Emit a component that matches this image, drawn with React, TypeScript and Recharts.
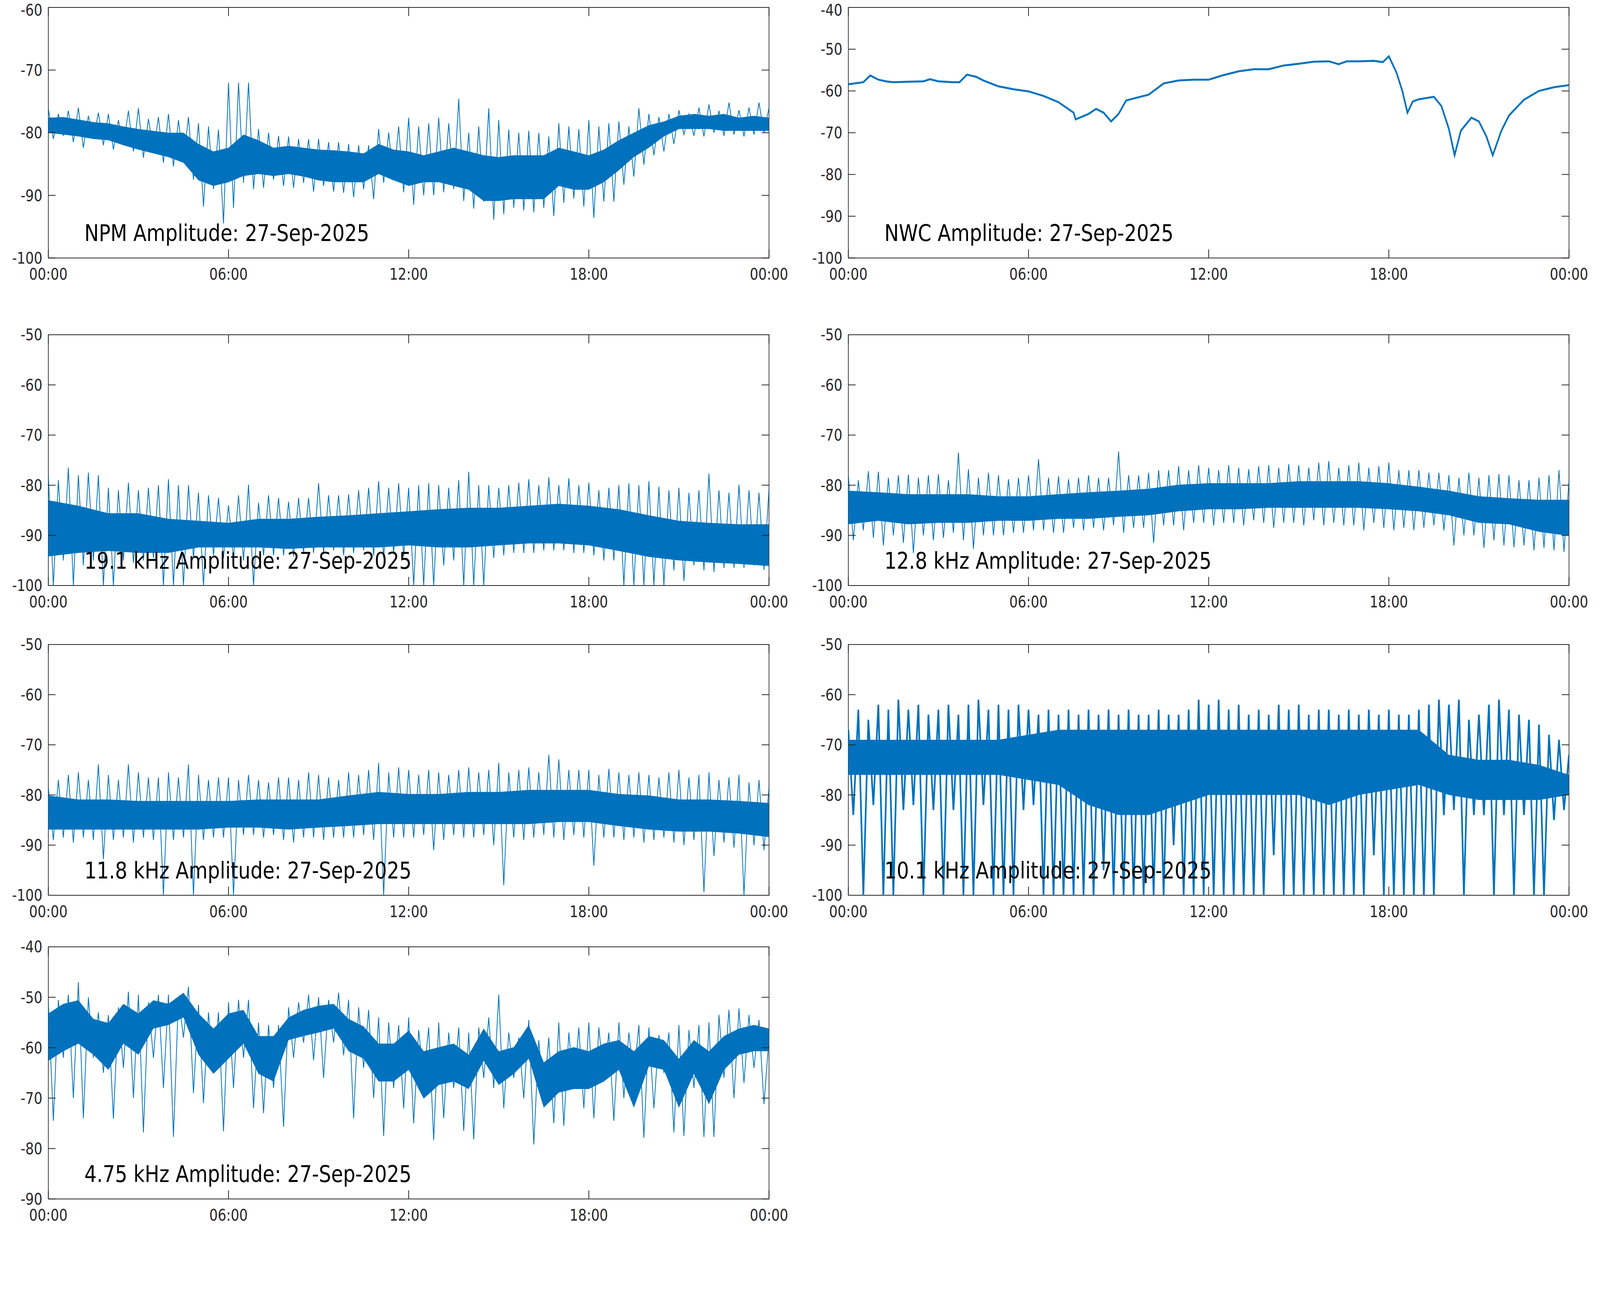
import React from 'react';
import { Area, ComposedChart, Line, ReferenceArea, XAxis, YAxis } from 'recharts';

const BLUE = '#0072BD';
const INK = '#262626';
const FONT = '"DejaVu Sans", Verdana, sans-serif';

// design size of the figure
const FIG_W = 4800;
const FIG_H = 3300;

// x axis: hours of the day
const hourTicks = [0, 6, 12, 18, 24];
const hourLabels = ['00:00', '06:00', '12:00', '18:00', '00:00'];

// ---- NPM (30 min core band, 10 min spikes) ----
const npmHi = [-77.6, -77.5, -77.9, -78.3, -78.5, -79.0, -79.4, -79.7, -80.0, -80.0, -81.8, -83.0, -82.4, -80.3, -81.2, -82.4, -82.1, -82.4, -82.7, -82.8, -83.0, -83.3, -81.8, -82.7, -83.0, -83.6, -83.0, -82.4, -83.0, -83.6, -83.9, -83.6, -83.6, -83.6, -82.4, -83.0, -83.6, -82.7, -81.2, -80.0, -78.8, -78.2, -77.3, -77.0, -77.3, -77.0, -77.6, -77.3, -77.6];
const npmLo = [-80.0, -80.3, -80.6, -81.0, -81.2, -82.0, -82.7, -83.3, -83.9, -84.8, -87.6, -88.5, -87.9, -86.9, -86.6, -86.9, -86.6, -87.0, -87.6, -87.9, -87.9, -87.9, -86.6, -87.6, -88.5, -87.9, -87.9, -88.5, -89.1, -90.9, -90.9, -90.6, -90.6, -90.6, -88.5, -89.1, -89.1, -87.9, -86.0, -83.9, -82.4, -80.6, -79.4, -79.4, -79.4, -79.7, -79.7, -79.7, -79.7];
const npmSpikes = [
  -76.2, -81.0, -77.0, -80.5, -76.5, -81.5, -76.0, -82.4, -77.3, -81.0, -76.8, -82.0,
  -77.0, -82.7, -78.0, -82.0, -76.5, -83.0, -76.1, -84.0, -77.8, -83.0, -77.5, -84.8,
  -77.0, -85.4, -78.0, -84.5, -77.5, -87.5, -78.5, -91.8, -79.0, -89.0, -79.5, -94.5,
  -72.0, -92.0, -72.0, -88.0, -72.0, -89.0, -79.4, -88.8, -80.0, -87.5, -80.5, -88.5,
  -80.6, -88.8, -81.0, -88.0, -81.0, -89.4, -81.0, -88.5, -81.5, -89.4, -81.5, -89.6,
  -81.8, -90.3, -82.0, -89.0, -82.0, -90.6, -79.4, -88.0, -80.0, -87.5, -79.0, -89.5,
  -77.6, -91.5, -79.0, -90.0, -78.5, -90.0, -77.6, -89.5, -78.5, -89.0, -74.6, -90.9,
  -80.0, -92.1, -79.0, -91.0, -76.1, -93.9, -78.0, -93.0, -79.5, -92.0, -80.0, -92.4,
  -79.7, -92.7, -80.0, -92.0, -80.6, -93.3, -78.5, -91.2, -79.0, -90.5, -79.4, -91.8,
  -78.0, -93.6, -79.0, -91.0, -78.5, -91.0, -78.2, -88.3, -79.0, -87.0, -76.1, -85.1,
  -77.0, -83.6, -77.5, -83.0, -77.0, -81.8, -76.4, -80.3, -77.0, -80.5, -76.0, -80.6,
  -75.5, -80.0, -76.5, -80.5, -75.2, -80.3, -76.4, -80.6, -76.0, -80.3, -75.2, -80.0,
  -76.0,
];

// ---- NWC (single trace) ----
const nwcHours = [0, 0.5, 0.73, 1, 1.25, 1.5, 2, 2.5, 2.72, 3, 3.5, 3.7, 3.95, 4.25, 4.5, 5, 5.5, 6, 6.5, 7, 7.5, 7.57, 8, 8.25, 8.5, 8.75, 9, 9.25, 9.5, 10, 10.5, 11, 11.5, 12, 12.5, 13, 13.5, 14, 14.5, 15, 15.5, 16, 16.33, 16.6, 17, 17.5, 17.8, 18, 18.25, 18.45, 18.62, 18.8, 19, 19.5, 19.75, 20, 20.19, 20.4, 20.75, 21, 21.25, 21.46, 21.75, 22, 22.5, 23, 23.5, 24];
const nwcValues = [-58.4, -57.9, -56.3, -57.3, -57.7, -57.9, -57.8, -57.7, -57.2, -57.7, -57.9, -57.9, -56.1, -56.6, -57.5, -58.9, -59.6, -60.1, -61.2, -62.7, -65.2, -66.8, -65.5, -64.3, -65.2, -67.3, -65.5, -62.3, -61.8, -60.9, -58.2, -57.5, -57.3, -57.3, -56.2, -55.3, -54.8, -54.8, -53.9, -53.5, -53.0, -52.9, -53.6, -52.9, -52.9, -52.8, -53.1, -51.7, -55.5, -60.0, -65.2, -62.5, -62.0, -61.4, -63.6, -69.1, -75.4, -69.5, -66.4, -67.3, -70.9, -75.4, -69.5, -65.9, -62.1, -60.0, -59.1, -58.6];

// ---- 19.1 kHz (hourly core, 10 min spikes) ----
const k191Hi = [-83.0, -84.1, -85.6, -85.6, -86.7, -87.1, -87.5, -86.7, -86.7, -86.3, -86.0, -85.6, -85.2, -84.8, -84.5, -84.5, -84.1, -83.7, -84.1, -84.8, -86.0, -87.1, -87.5, -87.8, -87.8];
const k191Lo = [-94.2, -93.5, -93.1, -93.5, -93.5, -92.4, -92.4, -92.4, -92.7, -92.4, -92.4, -92.4, -92.0, -92.4, -92.4, -92.0, -91.6, -91.6, -92.0, -93.1, -94.3, -95.0, -95.4, -95.7, -96.1];
const k191Spikes = [
  -78.0, -100, -79.0, -95.0, -76.5, -100, -78.0, -96.0, -77.5, -95.0, -78.0, -100,
  -80.5, -100, -81.0, -95.0, -79.5, -95.5, -81.0, -95.0, -80.5, -94.5, -80.0, -100,
  -78.8, -100, -80.0, -100, -80.0, -94.5, -81.5, -100, -82.0, -94.0, -82.5, -94.5,
  -84.0, -94.6, -82.0, -95.0, -79.9, -100, -83.5, -94.0, -82.0, -94.0, -82.5, -94.0,
  -83.3, -94.2, -82.5, -93.5, -82.5, -93.5, -79.6, -93.5, -82.0, -93.0, -82.0, -94.0,
  -81.8, -93.5, -81.0, -93.0, -80.5, -94.0, -79.2, -94.5, -80.5, -93.5, -79.6, -94.2,
  -80.5, -100, -80.0, -100, -79.6, -100, -80.0, -96.0, -80.5, -95.0, -79.0, -100,
  -77.3, -100, -80.0, -100, -80.0, -94.5, -80.5, -94.0, -80.0, -93.5, -79.5, -93.5,
  -78.8, -93.5, -80.0, -93.0, -78.4, -93.0, -80.0, -93.0, -78.6, -93.5, -80.0, -93.5,
  -79.5, -94.0, -81.0, -95.0, -80.5, -95.0, -80.0, -100, -79.6, -100, -80.0, -100,
  -79.2, -100, -80.3, -100, -81.0, -97.0, -80.5, -99.1, -81.5, -96.0, -81.0, -97.0,
  -77.7, -97.3, -81.0, -96.5, -81.5, -96.5, -79.9, -96.5, -81.0, -96.0, -81.5, -96.9,
  -80.7,
];

// ---- 12.8 kHz ----
const k128Hi = [-81.1, -81.4, -81.8, -81.8, -81.8, -82.2, -82.2, -81.8, -81.4, -81.1, -80.7, -79.9, -79.6, -79.6, -79.6, -79.2, -79.2, -79.2, -79.6, -80.3, -81.1, -82.2, -82.6, -82.9, -82.9];
const k128Lo = [-87.8, -87.1, -87.8, -87.5, -87.5, -87.1, -87.1, -86.7, -86.7, -86.3, -86.0, -85.2, -84.8, -84.8, -84.5, -84.5, -84.5, -84.5, -84.8, -85.2, -86.0, -87.5, -87.8, -89.3, -90.1];
const k128Spikes = [
  -78.0, -91.0, -79.0, -89.0, -77.2, -90.5, -77.3, -92.0, -78.5, -90.0, -78.0, -91.5,
  -77.9, -93.5, -78.5, -90.0, -78.0, -91.0, -77.8, -90.5, -79.0, -89.5, -73.5, -91.0,
  -76.8, -92.7, -78.5, -90.0, -77.5, -90.0, -78.0, -90.0, -78.8, -89.5, -78.5, -89.5,
  -78.0, -89.0, -74.8, -89.0, -78.5, -89.5, -78.2, -89.5, -78.8, -88.5, -78.5, -89.0,
  -78.0, -88.5, -78.5, -89.0, -78.5, -88.0, -73.3, -89.5, -78.0, -88.5, -78.0, -88.5,
  -77.5, -91.5, -77.0, -88.0, -77.0, -88.0, -76.2, -89.0, -77.0, -87.5, -76.0, -87.5,
  -76.5, -88.0, -77.0, -87.5, -76.0, -87.5, -76.5, -88.0, -76.8, -87.0, -76.2, -87.5,
  -76.0, -88.5, -76.5, -87.5, -75.8, -87.5, -76.0, -88.0, -76.5, -87.0, -75.5, -88.0,
  -75.2, -87.5, -76.5, -88.0, -76.0, -88.0, -75.5, -89.0, -76.5, -87.5, -76.2, -88.5,
  -75.5, -89.0, -77.0, -88.5, -77.0, -89.0, -77.0, -88.5, -77.5, -88.0, -77.5, -89.0,
  -78.0, -92.0, -78.5, -90.0, -77.5, -90.0, -78.5, -92.5, -78.0, -91.0, -77.8, -92.0,
  -78.0, -92.4, -79.0, -92.0, -79.0, -93.0, -78.5, -92.5, -78.0, -93.0, -77.0, -93.3,
  -79.0,
];

// ---- 11.8 kHz ----
const k118Hi = [-80.1, -80.9, -80.9, -81.2, -81.2, -81.2, -81.2, -80.9, -80.9, -80.9, -80.1, -79.4, -79.8, -79.8, -79.4, -79.4, -79.0, -79.0, -79.0, -79.8, -80.1, -80.9, -80.9, -81.2, -81.6];
const k118Lo = [-86.9, -86.9, -86.9, -86.9, -86.9, -86.9, -86.5, -86.5, -86.9, -86.5, -86.2, -85.8, -85.8, -85.8, -85.8, -85.8, -85.8, -85.4, -85.4, -86.2, -86.9, -87.3, -87.3, -87.7, -88.4];
const k118Spikes = [
  -78.5, -89.0, -77.0, -88.5, -76.0, -89.5, -75.5, -88.5, -77.0, -89.0, -73.9, -92.8,
  -76.0, -89.0, -77.0, -88.5, -73.9, -89.5, -75.5, -88.5, -76.5, -89.0, -76.5, -100,
  -75.5, -89.0, -76.5, -88.5, -73.9, -100, -76.0, -89.0, -77.0, -88.5, -76.5, -88.5,
  -76.5, -100, -77.0, -88.0, -76.0, -88.0, -77.0, -88.5, -77.5, -88.0, -76.5, -89.0,
  -76.5, -89.5, -77.0, -88.5, -75.5, -88.5, -76.0, -89.0, -76.5, -88.5, -77.0, -88.5,
  -75.5, -88.5, -76.0, -88.0, -75.0, -89.0, -73.6, -100, -75.5, -88.5, -74.5, -88.5,
  -75.0, -88.5, -76.0, -88.0, -75.0, -91.0, -75.5, -89.0, -76.0, -88.0, -75.0, -88.5,
  -74.5, -88.5, -75.5, -88.0, -75.0, -90.0, -73.6, -98.0, -75.5, -88.5, -75.0, -89.0,
  -74.5, -88.5, -75.5, -88.0, -72.0, -88.5, -72.9, -89.0, -75.0, -88.0, -75.0, -88.5,
  -75.0, -94.1, -76.0, -88.5, -74.8, -88.5, -75.5, -89.0, -76.0, -88.5, -75.5, -89.5,
  -76.0, -89.0, -76.5, -88.5, -75.5, -89.5, -75.0, -90.0, -76.5, -89.0, -76.0, -99.4,
  -75.5, -92.2, -77.0, -89.5, -76.5, -90.5, -76.0, -100, -77.5, -90.0, -77.0, -91.0,
  -78.5,
];

// ---- 10.1 kHz (hourly core, 10 min spikes) ----
const k101Hi = [-69, -69, -69, -69, -69, -69, -68, -67, -67, -67, -67, -67, -67, -67, -67, -67, -67, -67, -67, -67, -72, -73, -73, -74, -76];
const k101Lo = [-76, -76, -76, -76, -76, -76, -77, -78, -82, -84, -84, -82, -80, -80, -80, -80, -82, -80, -79, -78, -80, -81, -81, -81, -80];
const k101Spikes = [
  -67, -84, -63, -100, -65, -82, -62, -100, -63, -100, -61, -83,
  -63, -82, -62, -100, -64, -83, -63, -100, -62, -83, -64, -100,
  -62, -100, -61, -82, -63, -100, -62, -100, -63, -100, -62, -83,
  -63, -82, -64, -100, -63, -100, -64, -100, -63, -100, -64, -100,
  -63, -100, -64, -95, -63, -100, -64, -100, -63, -100, -64, -100,
  -64, -100, -63, -100, -64, -90, -64, -100, -63, -100, -61, -100,
  -62, -100, -61, -100, -63, -100, -62, -100, -64, -100, -63, -100,
  -64, -92, -62, -100, -63, -100, -62, -100, -64, -100, -63, -100,
  -63, -100, -64, -100, -63, -100, -64, -100, -63, -92, -64, -100,
  -63, -100, -64, -100, -64, -100, -63, -100, -62, -100, -61, -84,
  -62, -83, -61, -100, -65, -84, -64, -84, -62, -100, -61, -84,
  -63, -100, -64, -84, -65, -100, -66, -100, -68, -85, -69, -83,
  -72,
];

// ---- 4.75 kHz (30 min core, 10 min spikes) ----
const k475Hi = [-53.2, -51.3, -50.6, -54.3, -55.1, -51.3, -53.2, -50.6, -51.3, -49.1, -53.2, -56.2, -53.2, -52.5, -57.7, -57.7, -54.0, -52.5, -51.7, -51.3, -54.3, -55.8, -59.2, -59.2, -56.6, -60.7, -59.9, -59.2, -61.4, -56.2, -60.7, -59.9, -55.5, -62.9, -60.7, -59.9, -60.7, -59.2, -58.5, -60.7, -57.7, -58.5, -62.2, -58.5, -60.7, -57.7, -56.2, -55.5, -56.2];
const k475Lo = [-62.6, -60.7, -59.2, -61.4, -64.4, -59.2, -61.4, -56.2, -55.5, -54.0, -61.4, -65.2, -62.2, -59.2, -65.2, -66.7, -58.5, -57.7, -57.0, -56.2, -60.7, -62.2, -66.7, -66.7, -64.4, -70.1, -67.4, -66.7, -68.2, -62.6, -67.4, -65.2, -62.2, -71.9, -68.9, -68.2, -68.2, -66.7, -64.4, -71.9, -63.7, -64.4, -71.9, -65.2, -71.2, -64.4, -61.4, -60.7, -60.7];
const k475Spikes = [
  -51.0, -74.5, -50.5, -62.0, -49.5, -70.0, -47.0, -74.0, -50.0, -62.0, -53.0, -65.0,
  -53.5, -74.1, -52.0, -64.0, -48.9, -70.0, -49.5, -76.8, -51.0, -62.0, -49.5, -68.0,
  -49.5, -77.7, -50.0, -58.0, -47.9, -69.0, -51.5, -71.0, -53.0, -65.0, -53.0, -76.6,
  -51.0, -68.0, -50.5, -62.0, -50.5, -72.0, -55.0, -73.0, -55.5, -68.0, -55.5, -75.7,
  -52.0, -62.0, -51.0, -59.0, -49.5, -62.5, -50.0, -66.0, -50.5, -59.0, -49.1, -61.5,
  -50.5, -74.0, -52.0, -64.0, -52.5, -70.0, -54.0, -77.5, -55.0, -68.0, -55.5, -72.0,
  -54.0, -75.0, -56.5, -66.0, -56.0, -78.3, -55.0, -74.0, -57.0, -68.0, -56.0, -76.5,
  -57.0, -78.2, -56.0, -66.0, -54.0, -68.0, -49.5, -72.0, -57.0, -66.0, -58.0, -70.0,
  -54.5, -79.2, -58.5, -70.0, -58.0, -75.0, -55.0, -75.5, -57.0, -68.0, -56.0, -72.0,
  -55.0, -74.0, -56.0, -66.0, -57.0, -74.5, -55.0, -70.0, -57.0, -66.0, -55.5, -77.9,
  -56.0, -72.0, -57.5, -65.0, -57.0, -76.8, -55.5, -77.5, -56.5, -68.0, -55.5, -77.7,
  -55.0, -77.7, -53.5, -66.0, -52.5, -70.0, -52.2, -67.0, -53.5, -64.0, -54.5, -71.2,
  -58.0,
];

const PLOT_W = 2162;
const COL_X = [145, 2545];
const ROW_Y = [18.5, 857, 1650, 2423.5];
const ROW_H = [641.5, 642, 642, 645.5];

type Panel = {
  title: string;
  col: number;
  row: number;
  yTicks: number[];
  hi?: number[];
  lo?: number[];
  spikes?: number[];
  spikeWidth?: number;
  hours?: number[];
  trace?: number[];
};

const panels: Panel[] = [
  { title: 'NPM Amplitude: 27-Sep-2025', col: 0, row: 0, yTicks: [-100, -90, -80, -70, -60], hi: npmHi, lo: npmLo, spikes: npmSpikes },
  { title: 'NWC Amplitude: 27-Sep-2025', col: 1, row: 0, yTicks: [-100, -90, -80, -70, -60, -50, -40], hours: nwcHours, trace: nwcValues },
  { title: '19.1 kHz Amplitude: 27-Sep-2025', col: 0, row: 1, yTicks: [-100, -90, -80, -70, -60, -50], hi: k191Hi, lo: k191Lo, spikes: k191Spikes },
  { title: '12.8 kHz Amplitude: 27-Sep-2025', col: 1, row: 1, yTicks: [-100, -90, -80, -70, -60, -50], hi: k128Hi, lo: k128Lo, spikes: k128Spikes },
  { title: '11.8 kHz Amplitude: 27-Sep-2025', col: 0, row: 2, yTicks: [-100, -90, -80, -70, -60, -50], hi: k118Hi, lo: k118Lo, spikes: k118Spikes },
  { title: '10.1 kHz Amplitude: 27-Sep-2025', col: 1, row: 2, yTicks: [-100, -90, -80, -70, -60, -50], hi: k101Hi, lo: k101Lo, spikes: k101Spikes, spikeWidth: 5 },
  { title: '4.75 kHz Amplitude: 27-Sep-2025', col: 0, row: 3, yTicks: [-90, -80, -70, -60, -50, -40], hi: k475Hi, lo: k475Lo, spikes: k475Spikes },
];

function buildRows(p: Panel) {
  const rows = new Map<number, any>();
  const put = (t: number, key: string, v: any) => {
    const k = Math.round(t * 10000) / 10000;
    const r = rows.get(k) ?? { t: k };
    r[key] = v;
    rows.set(k, r);
  };
  if (p.hi && p.lo) {
    const n = Math.min(p.hi.length, p.lo.length);
    for (let i = 0; i < n; i++) put((i * 24) / (n - 1), 'band', [p.lo[i], p.hi[i]]);
  }
  if (p.spikes) {
    const n = p.spikes.length;
    for (let i = 0; i < n; i++) put((i * 24) / (n - 1), 'spike', p.spikes[i]);
  }
  if (p.hours && p.trace) {
    p.hours.forEach((h, i) => put(h, 'trace', p.trace![i]));
  }
  return [...rows.values()].sort((a, b) => a.t - b.t);
}

const tickText = { fontFamily: FONT, fontSize: 40, fill: INK };

function PanelChart({ p }: { p: Panel }) {
  const plotH = ROW_H[p.row];
  const yMin = p.yTicks[0];
  const yMax = p.yTicks[p.yTicks.length - 1];
  const data = buildRows(p);
  const chartTop = ROW_Y[p.row] - 40;
  // keep the topmost tick label inside the page
  const minBaseline = 40 - chartTop;

  const yTick = (props: any) => {
    const { x, y, payload } = props;
    return (
      <g>
        <line x1={x} x2={x + 22} y1={y} y2={y} stroke={INK} strokeWidth={2} />
        <line x1={x + PLOT_W - 22} x2={x + PLOT_W} y1={y} y2={y} stroke={INK} strokeWidth={2} />
        <text x={x - 18} y={Math.max(y + 14.5, minBaseline)} textAnchor="end" {...tickText}>
          {payload.value}
        </text>
      </g>
    );
  };

  const xTick = (props: any) => {
    const { x, y, payload, index } = props;
    return (
      <g>
        <line x1={x} x2={x} y1={y - 22} y2={y} stroke={INK} strokeWidth={2.3} />
        <line x1={x} x2={x} y1={y - plotH} y2={y - plotH + 22} stroke={INK} strokeWidth={2.3} />
        <text x={x} y={y + 56} textAnchor="middle" {...tickText}>
          {hourLabels[hourTicks.indexOf(payload.value)] ?? hourLabels[index]}
        </text>
      </g>
    );
  };

  return (
    <div style={{ position: 'absolute', left: COL_X[p.col] - 200, top: chartTop }}>
      <ComposedChart
        width={PLOT_W + 300}
        height={plotH + 140}
        data={data}
        margin={{ top: 40, right: 100, bottom: 0, left: 100 }}
      >
        <XAxis
          dataKey="t"
          type="number"
          domain={[0, 24]}
          ticks={hourTicks}
          interval={0}
          height={100}
          tickLine={false}
          axisLine={false}
          tickSize={0}
          tickMargin={0}
          tick={xTick}
          allowDataOverflow
        />
        <YAxis
          type="number"
          domain={[yMin, yMax]}
          ticks={p.yTicks}
          interval={0}
          width={100}
          tickLine={false}
          axisLine={false}
          tickSize={0}
          tickMargin={0}
          tick={yTick}
          allowDataOverflow
        />
        <ReferenceArea x1={0} x2={24} y1={yMin} y2={yMax} fill="none" stroke={INK} strokeWidth={2} ifOverflow="visible" />
        {p.hi && (
          <Area
            dataKey="band"
            type="linear"
            stroke="none"
            fill={BLUE}
            fillOpacity={1}
            connectNulls
            dot={false}
            activeDot={false}
            isAnimationActive={false}
          />
        )}
        {p.spikes && (
          <Line
            dataKey="spike"
            type="linear"
            stroke={BLUE}
            strokeWidth={p.spikeWidth ?? 2.3}
            connectNulls
            dot={false}
            activeDot={false}
            isAnimationActive={false}
          />
        )}
        {p.trace && (
          <Line
            dataKey="trace"
            type="linear"
            stroke={BLUE}
            strokeWidth={5}
            connectNulls
            dot={false}
            activeDot={false}
            isAnimationActive={false}
          />
        )}
      </ComposedChart>
      <div
        style={{
          position: 'absolute',
          left: 200 + 108,
          top: 40 + plotH - 43 - 49,
          fontFamily: FONT,
          fontSize: 58,
          lineHeight: '58px',
          color: '#000',
          whiteSpace: 'nowrap',
        }}
      >
        {p.title}
      </div>
    </div>
  );
}

export default function App() {
  // the figure is drawn at 4800x3300 and fitted to whatever viewport the page gets
  const vw = typeof window !== 'undefined' && window.innerWidth ? window.innerWidth : FIG_W;
  const vh = typeof window !== 'undefined' && window.innerHeight ? window.innerHeight : FIG_H;
  const sx = vw / FIG_W;
  const sy = vh / FIG_H;
  return (
    <div style={{ position: 'fixed', left: 0, top: 0, width: vw, height: vh, overflow: 'hidden', background: '#fff' }}>
      <div
        style={{
          position: 'absolute',
          left: 0,
          top: 0,
          width: FIG_W,
          height: FIG_H,
          background: '#fff',
          transform: `scale(${sx}, ${sy})`,
          transformOrigin: '0 0',
        }}
      >
        {panels.map((p) => (
          <PanelChart key={p.title} p={p} />
        ))}
      </div>
    </div>
  );
}
